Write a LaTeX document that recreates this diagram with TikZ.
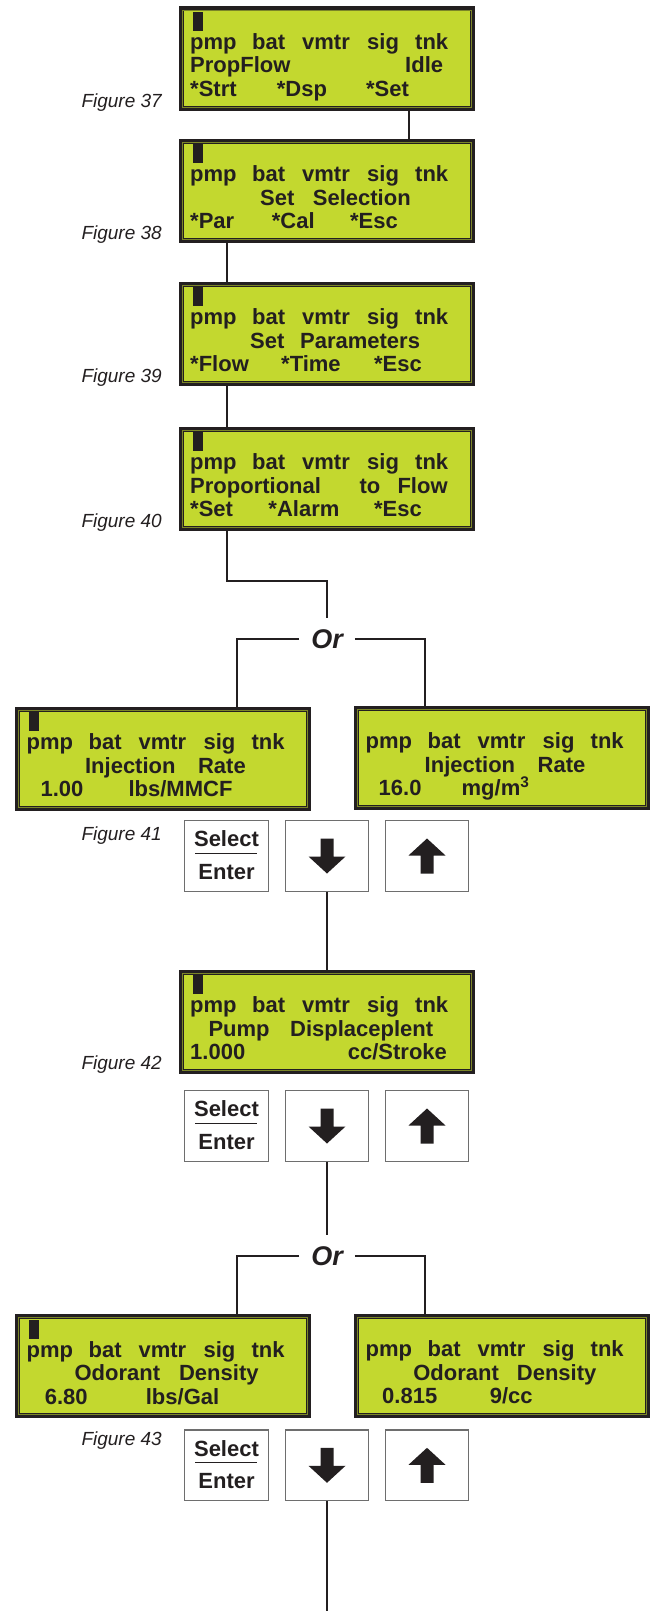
\documentclass[tikz,border=0pt]{standalone}
\usepackage{fontspec}
\setmainfont{Liberation Sans}
\definecolor{lcdgreen}{RGB}{195,216,47}
\definecolor{lcdink}{RGB}{35,31,32}
\definecolor{keygray}{RGB}{110,110,110}

\newcommand{\lw}[2]{\makebox[#1pt][l]{#2}}
\newcommand{\pmpline}{\lw{62}{pmp}\lw{50}{bat}\lw{65}{vmtr}\lw{48}{sig}tnk}

\newcommand{\lcdbox}[6]{%
  \node[lcd, anchor=north west] (#1) at (#2+2.5,#3+2.5) {};
  \draw[lcdedge] ([shift={(3.4,3.4)}]#1.north west) rectangle ([shift={(-3.4,-3.4)}]#1.south east);
  \ifnum#4=1 \fill[lcdink] (#2+17,#3+8) rectangle ++(10,19);\fi
  \node[lcdline] (#1l1) at (#2+14,#3+45.5) {\pmpline};
  \node[lcdline] (#1l2) at (#2+14,#3+69) {#5};
  \node[lcdline] (#1l3) at (#2+14,#3+92.5) {#6};
}

\newcommand{\keypad}[2]{%
  \node[key] (#1sel) at (226.5,#2+36) {};
  \node[key] (#1dn) at (327,#2+36) {};
  \node[key] (#1up) at (427,#2+36) {};
  \node[keytext] (#1s) at (226.5,#2+26.7) {Select};
  \draw[lcdink, line width=1pt] (195,#2+33.3) -- (257,#2+33.3);
  \node[keytext] (#1e) at (226.5,#2+59) {Enter};
  \fill[lcdink] (320.5,#2+18.5) -- (333.5,#2+18.5) -- (333.5,#2+36.5) -- (345.5,#2+36.5)
    -- (327,#2+53.5) -- (308.5,#2+36.5) -- (320.5,#2+36.5) -- cycle;
  \fill[lcdink] (427,#2+18.5) -- (445.5,#2+35.5) -- (433.5,#2+35.5) -- (433.5,#2+53.5)
    -- (420.5,#2+53.5) -- (420.5,#2+35.5) -- (408.5,#2+35.5) -- cycle;
}

\begin{document}
\begin{tikzpicture}[x=1pt, y=-1pt,
    lcd/.style={draw=lcdink, line width=5pt, fill=lcdgreen, minimum width=291pt, minimum height=99pt, inner sep=0pt},
    lcdedge/.style={draw=lcdink!45!lcdgreen, line width=0.7pt},
    lcdline/.style={anchor=base west, inner sep=0pt, text=lcdink, font=\fontsize{22}{24}\selectfont\bfseries},
    key/.style={draw=keygray, line width=1.2pt, fill=white, minimum width=83.5pt, minimum height=70.5pt, inner sep=0pt},
    keytext/.style={anchor=base, inner sep=0pt, text=lcdink, font=\fontsize{22}{24}\selectfont\bfseries},
    figlabel/.style={anchor=base east, inner sep=0pt, text=lcdink, font=\fontsize{19}{22}\selectfont\itshape},
    ornode/.style={inner xsep=12pt, inner ysep=11.5pt, text height=19pt, text depth=0pt, text=lcdink, font=\fontsize{27}{30}\selectfont\bfseries\itshape},
    wire/.style={draw=lcdink, line width=2pt}]
  \useasboundingbox (0,0) rectangle (649,1611);

  \lcdbox{b37}{176}{4}{1}{\lw{215}{PropFlow}Idle}{\lw{86.7}{*Strt}\lw{89.3}{*Dsp}*Set}
  \lcdbox{b38}{176}{136}{1}{\hspace*{70pt}\lw{52.7}{Set}Selection}{\lw{81.7}{*Par}\lw{78.3}{*Cal}*Esc}
  \lcdbox{b39}{176}{279}{1}{\hspace*{60pt}\lw{50}{Set}Parameters}{\lw{91}{*Flow}\lw{93}{*Time}*Esc}
  \lcdbox{b40}{176}{424}{1}{\lw{169.3}{Proportional}\lw{38}{to}Flow}{\lw{78.3}{*Set}\lw{105.7}{*Alarm}*Esc}
  \lcdbox{b41a}{12.4}{704}{1}{\hspace*{58.5pt}\lw{113}{Injection}Rate}{\hspace*{14pt}\lw{88}{1.00}lbs/MMCF}
  \lcdbox{b41b}{351.5}{703}{0}{\hspace*{59pt}\lw{113}{Injection}Rate}{\hspace*{13pt}\lw{83}{16.0}mg/m\textsuperscript{3}}
  \lcdbox{b42}{176}{967}{1}{\hspace*{18.3pt}\lw{81.7}{Pump}Displaceplent}{\lw{157.7}{1.000}cc/Stroke}
  \lcdbox{b43a}{12.4}{1311.7}{1}{\hspace*{48pt}\lw{104.5}{Odorant}Density}{\hspace*{18.3pt}\lw{101}{6.80}lbs/Gal}
  \lcdbox{b43b}{351.5}{1311}{0}{\hspace*{47.6pt}\lw{103.6}{Odorant}Density}{\hspace*{16.5pt}\lw{107.7}{0.815}9/cc}

  \foreach \k/\t in {k41/820, k42/1090, k43/1429.3}
    \keypad{\k}{\t};

  \foreach \n/\y in {37/107, 38/239, 39/382, 40/527, 41/840, 42/1069, 43/1445}
    \node[figlabel] (f\n) at (162,\y) {Figure \n};

  \node[ornode] (or1) at (327,639) {Or};
  \node[ornode] (or2) at (327,1256) {Or};
  \coordinate (j1) at (327,581);
  \coordinate (tail) at (327,1611);

  \foreach \a/\b/\s in {b37/b38/82.7, b38/b39/-100, b39/b40/-100}
    \draw[wire] ([xshift=\s pt]\a.south) -- ([xshift=\s pt]\b.north);
  \draw[wire] ([xshift=-100pt]b40.south) |- (j1) -- (or1.north);
  \draw[wire] (or1.west) -| ([xshift=74.2pt]b41a.north);
  \draw[wire] (or1.east) -| ([xshift=-76.8pt]b41b.north);
  \draw[wire] (k41dn.south) -- (k41dn.south |- b42.north);
  \draw[wire] (k42dn.south) -- (or2.north);
  \draw[wire] (or2.west) -| ([xshift=74.2pt]b43a.north);
  \draw[wire] (or2.east) -| ([xshift=-76.8pt]b43b.north);
  \draw[wire] (k43dn.south) -- (tail);
\end{tikzpicture}
\end{document}
